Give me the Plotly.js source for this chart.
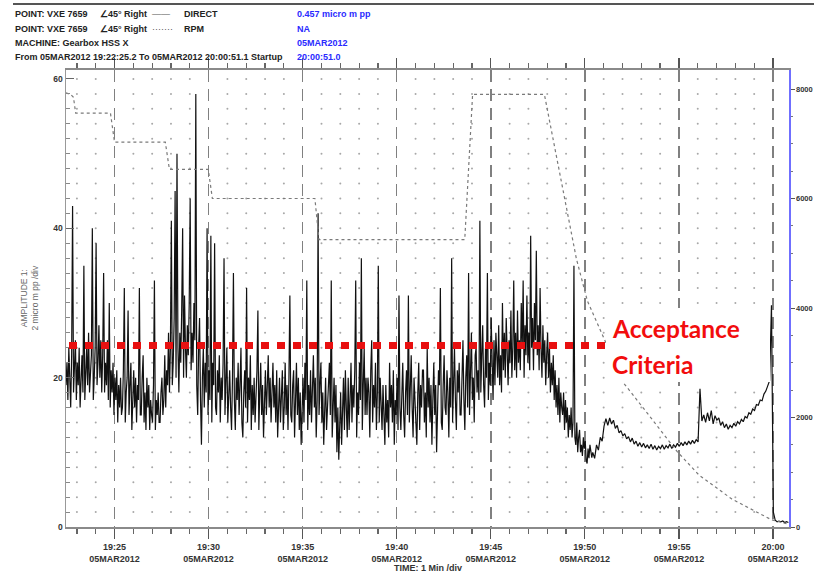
<!DOCTYPE html>
<html><head><meta charset="utf-8">
<script src="https://cdn.plot.ly/plotly-3.0.1.min.js"></script>
<style>html,body{margin:0;padding:0;background:#fff}#chart{width:814px;height:572px}</style>
</head><body><div id="chart"></div>
<script>
// ---------- DATA ----------
const rpmTimes = ['2012-03-05 19:22:25','2012-03-05 19:22:40','2012-03-05 19:22:49','2012-03-05 19:22:56',
  '2012-03-05 19:24:47','2012-03-05 19:25:00','2012-03-05 19:27:42','2012-03-05 19:27:55',
  '2012-03-05 19:29:59','2012-03-05 19:30:12','2012-03-05 19:35:39','2012-03-05 19:35:52',
  '2012-03-05 19:43:37','2012-03-05 19:44:02','2012-03-05 19:47:51','2012-03-05 19:49:33',
  '2012-03-05 19:50:08','2012-03-05 19:52:05','2012-03-05 19:53:15','2012-03-05 19:54:54',
  '2012-03-05 19:56:04','2012-03-05 19:57:49','2012-03-05 19:59:56','2012-03-05 20:00:51'];
const rpmValues = [7930,7900,7850,7560,7560,7028,7028,6532,6532,6000,6000,5250,5250,7900,7900,4900,4130,2620,2110,1380,950,510,130,50];

// vibration (DIRECT), part 1: 3 s samples, one row per minute
const vib1StartTime = '2012-03-05T19:22:25.200Z';
const vib1StepSeconds = 3;
const vib1Values = [
  19,22,17,24,20,16,23,43,18,21,25,17,22,19,24,16,21,23,18,35,
  17,22,24,19,26,18,21,23,40,17,20,24,38,19,22,27,20,25,18,23,
  34,18,22,19,25,17,30,16,21,18,22,15,20,17,21,14,19,16,20,15,
  16,21,32,14,18,20,29,15,19,22,13,18,21,16,20,14,19,17,32,15,
  15,20,23,14,18,13,20,16,19,13,17,15,14,19,33,13,17,15,18,14,
  14,18,20,15,17,23,16,21,19,26,18,24,41,19,22,28,45,20,50,24,
  18,26,22,29,40,20,31,24,20,27,23,30,44,21,26,22,30,25,58,19,
  15,24,28,17,11,20,24,16,22,18,40,15,21,17,39,14,22,19,38,16,
  15,21,18,23,14,20,17,22,36,15,19,24,14,18,21,16,13,20,34,17,
  13,20,17,22,15,19,24,14,12,18,21,16,32,14,20,17,23,13,19,15,
  20,14,17,21,29,13,18,22,15,19,12,17,21,15,18,23,16,20,14,19,
  22,16,19,14,21,12,17,20,14,18,21,13,16,22,15,19,13,20,31,15,
  14,19,21,12,17,22,15,20,13,18,11,16,20,14,22,17,33,13,19,15,
  21,14,18,23,16,20,12,17,42,15,19,22,14,18,11,16,20,13,17,21,
  22,15,33,12,17,20,14,19,10,16,9,13,18,11,15,20,13,21,16,12,
  20,13,17,22,14,19,16,21,33,12,18,15,22,17,36,13,19,24,15,20,
  15,20,18,12,21,25,14,19,16,22,13,18,35,14,20,17,13,19,16,11,
  19,14,17,12,22,16,19,14,21,11,17,15,20,13,31,16,13,18,22,15,
  12,18,21,15,31,14,19,23,16,12,20,17,14,11,18,22,13,19,16,21,
  21,14,18,12,24,16,20,14,19,11,17,22,15,19,10,16,21,19,32,14,
  13,19,23,16,15,21,18,12,20,16,36,14,19,24,17,13,21,18,22,15,
  15,21,25,17,13,20,23,16,34,15,22,26,17,20,14,23,24,18,21,17,
  41,18,23,27,19,16,24,20,34,17,22,19,28,21,17,25,19,26,22,20,
  27,19,23,18,30,21,26,20,28,23,19,25,22,29,20,24,33,21,26,20,
  29,22,25,21,30,24,33,20,27,23,31,22,26,21,39,24,28,21,30,25,
  37,23,27,21,32,24,20,27,22,25,19,23,26,20,24,18,22,19,23,17,
  21,16,19,15,20,14,18,16,15,18,13,17,14,16,12,15,13,16,12,14,
  35,12,11,14,10,12,13,10,11,9.5,12,10.5,11.5,9,8.5,10.5,9.2,11,9.8,9.3
];
// vibration (DIRECT), part 2: 6 s samples
const vib2StartTime = '2012-03-05T19:50:25.200Z';
const vib2StepSeconds = 6;
const vib2Values = [
  10,9.2,11,10.3,12,11.5,13.5,14.5,13.6,14.6,
  13.8,14.3,13.2,13.6,12.6,12.9,12.2,12.5,11.8,12.1,
  11.4,11.9,11.1,11.5,10.8,11.3,10.7,11.2,10.6,11.0,
  10.5,11.1,10.4,10.9,10.3,10.8,10.5,11.0,10.4,10.9,
  10.6,11.1,10.5,11.0,10.7,11.2,10.8,11.3,10.9,11.4,
  11.0,11.5,11.1,11.6,11.2,11.7,11.4,18.5,14.2,15.0,
  14.0,15.3,14.2,15.6,13.8,14.9,14.3,14.6,13.6,14.1,
  13.3,13.8,13.1,13.6,13.3,13.9,13.5,14.1,13.8,14.4,
  14.1,14.8,14.6,15.3,15.1,15.8,15.6,16.4,16.3,17.0,
  16.9,17.8,18.2,18.9,19.6,29.7,2.0,0.9,0.7,0.8,
  0.7,0.8,0.6,0.7,0.6
];
const acceptanceLevel = 24.3;
const acceptanceLabel = ['Acceptance','Criteria'];

const xRange = ['2012-03-05 19:22:25.2','2012-03-05 20:00:51.1'];
const xTickTimes = ['2012-03-05 19:25','2012-03-05 19:30','2012-03-05 19:35','2012-03-05 19:40',
                    '2012-03-05 19:45','2012-03-05 19:50','2012-03-05 19:55','2012-03-05 20:00'];
const xTickHours = ['19:25','19:30','19:35','19:40','19:45','19:50','19:55','20:00'];
const xTickDate = '05MAR2012';
const yTickValues = [0,20,40,60];
const y2TickValues = [0,2000,4000,6000,8000];

const headerLeft = ['POINT: VXE 7659','POINT: VXE 7659','MACHINE: Gearbox HSS X','From 05MAR2012 19:22:25.2 To 05MAR2012 20:00:51.1 Startup'];
const headerAngle = ['∠45° Right','∠45° Right'];
const headerStyle = ['——','·······'];
const headerSeries = ['DIRECT','RPM'];
const headerBlue = ['0.457 micro m pp','NA','05MAR2012','20:00:51.0'];

// ---------- BUILD ----------
function fmt(ms){ return new Date(ms).toISOString().replace('T',' ').replace('Z',''); }
const t1 = new Date(vib1StartTime).getTime(), t2 = new Date(vib2StartTime).getTime();
const vibTimes = vib1Values.map((v,i)=>fmt(t1 + i*vib1StepSeconds*1000))
  .concat(vib2Values.map((v,i)=>fmt(t2 + i*vib2StepSeconds*1000)));
const vibValues = vib1Values.concat(vib2Values);

// dot grid at every minute / every 2 units
const gx=[], gy=[];
const gStart = new Date('2012-03-05T19:23:00.000Z').getTime();
for(let m=0;m<=37;m++){
  const ms = gStart + m*60000;
  if(new Date(ms).getUTCMinutes()%5===0) continue;
  for(let v=2; v<=60; v+=2){ gx.push(fmt(ms)); gy.push(v); }
}

const L=66, R=789, T=70, B=527, W=814, H=572;
const px2x = p => (p-L)/(R-L);
const py2y = p => (B-p)/(B-T);

const sans = 'Liberation Sans, Arial, sans-serif';

const traces = [
  {x:gx, y:gy, type:'scatter', mode:'markers', marker:{size:2, color:'#a8a8a8'}, hoverinfo:'skip', showlegend:false},
  {x:rpmTimes, y:rpmValues, yaxis:'y2', type:'scatter', mode:'lines', line:{color:'#7a7a7a', width:1.2, dash:'dot'}, showlegend:false},
  {x:vibTimes, y:vibValues, type:'scatter', mode:'lines', line:{color:'#111111', width:1.2}, showlegend:false}
];

const ann = [];
const hdrY = [14,29,43,57];
headerLeft.forEach((t,i)=>ann.push({text:t, x:px2x(13), y:py2y(hdrY[i])}));
headerAngle.forEach((t,i)=>ann.push({text:t, x:px2x(98), y:py2y(hdrY[i])}));
headerStyle.forEach((t,i)=>ann.push({text:t, x:px2x(150), y:py2y(hdrY[i]), font:{size:9,color:'#555',family:sans}}));
headerSeries.forEach((t,i)=>ann.push({text:t, x:px2x(182), y:py2y(hdrY[i])}));
headerBlue.forEach((t,i)=>ann.push({text:'<b>'+t+'</b>', x:px2x(295), y:py2y(hdrY[i]), font:{size:9,color:'#2a2aff',family:sans}}));
ann.forEach(a=>{
  a.xref='paper'; a.yref='paper'; a.xanchor='left'; a.yanchor='middle'; a.showarrow=false;
  if(!a.font) { a.text='<b>'+a.text+'</b>'; a.font={size:9,color:'#222',family:sans}; }
});
ann.push({text:'AMPLITUDE 1:<br>2 micro m pp /div', xref:'paper', yref:'paper', x:px2x(29), y:0.5,
  textangle:-90, showarrow:false, xanchor:'center', yanchor:'middle', font:{size:8.5,color:'#666',family:sans}});
ann.push({text:'<b>TIME: 1 Min /div</b>', xref:'paper', yref:'paper', x:0.5, y:py2y(568),
  showarrow:false, xanchor:'center', yanchor:'middle', font:{size:9,color:'#333',family:sans}});
const accY = [328, 364];
acceptanceLabel.forEach((t,i)=>ann.push({text:'<b>'+t+'</b>', xref:'paper', yref:'paper', x:px2x(610), y:py2y(accY[i]),
  showarrow:false, xanchor:'left', yanchor:'middle', align:'left',
  font:{size:24.5,color:'#f20d0d',family:'Lato, Open Sans, sans-serif'}}));

const layout = {
  width:W, height:H, margin:{l:L, r:W-R, t:T, b:H-B, pad:0},
  paper_bgcolor:'#fff', plot_bgcolor:'#fff', showlegend:false, hovermode:false,
  xaxis:{type:'date', range:xRange, tickmode:'array', tickvals:xTickTimes,
    ticktext:xTickHours.map(h=>'<b>'+h+'</b><br><b>'+xTickDate+'</b>'),
    ticks:'outside', ticklen:10, tickwidth:1.2, tickcolor:'#555',
    showline:true, linecolor:'#8a8a8a', linewidth:2, mirror:'ticks',
    showgrid:true, gridcolor:'#808080', gridwidth:1.5, griddash:'12px,7px',
    zeroline:false, automargin:false,
    tickfont:{size:9, color:'#333', family:sans},
    minor:{tickmode:'linear', tick0:'2012-03-05 19:25', dtick:60000, ticks:'outside', ticklen:5, tickcolor:'#666', showgrid:false}
  },
  yaxis:{range:[0,61.2], tickmode:'array', tickvals:yTickValues, ticktext:yTickValues.map(v=>'<b>'+v+'</b>'),
    ticks:'inside', ticklen:8, tickcolor:'#666', showline:true, linecolor:'#999', linewidth:1.5,
    showgrid:false, zeroline:false, automargin:false,
    tickfont:{size:8.5, color:'#333', family:sans},
    minor:{tickmode:'linear', tick0:0, dtick:2, ticks:'inside', ticklen:4, tickcolor:'#888', showgrid:false}
  },
  yaxis2:{overlaying:'y', side:'right', range:[0,8347], tickmode:'array', tickvals:y2TickValues,
    ticktext:y2TickValues.map(v=>'<b>'+v+'</b>'),
    ticks:'outside', ticklen:4, tickcolor:'#555', showline:true, linecolor:'#6f6fff', linewidth:1.5,
    showgrid:false, zeroline:false, automargin:false,
    tickfont:{size:7.5, color:'#333', family:sans},
    minor:{tickmode:'linear', tick0:0, dtick:500, ticks:'outside', ticklen:2.5, tickcolor:'#777', showgrid:false}
  },
  shapes:[
    {type:'line', xref:'paper', yref:'y', x0:px2x(69), x1:px2x(607), y0:acceptanceLevel, y1:acceptanceLevel,
     line:{color:'#e81010', width:7, dash:'8px,8px'}},
    {type:'rect', xref:'paper', yref:'paper', layer:'above', x0:px2x(606), x1:px2x(770), y0:py2y(382), y1:py2y(308),
     fillcolor:'#ffffff', line:{width:0}},
    {type:'line', xref:'paper', yref:'paper', x0:px2x(13), x1:px2x(814), y0:py2y(4), y1:py2y(4),
     line:{color:'#555', width:2}}
  ],
  annotations:ann
};
Plotly.newPlot('chart', traces, layout, {staticPlot:true, displayModeBar:false});
</script></body></html>
